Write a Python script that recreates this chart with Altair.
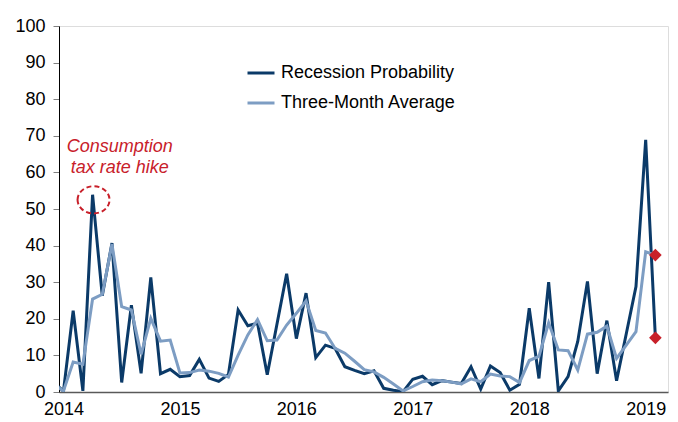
import altair as alt
import pandas as pd

# Monthly observations, Dec 2013 (clipped at the axis) .. Feb 2019
months = pd.date_range("2013-12-01", "2019-02-01", freq="MS").strftime("%Y-%m").tolist()

recession = [
    2.7,
    0.2, 22.2, 0.3, 53.9, 26.3, 40.7, 2.6, 23.7, 5.1, 31.3, 5.0, 6.2,
    4.2, 4.5, 8.9, 3.8, 2.9, 4.8, 22.4, 18.1, 18.8, 4.7, 18.5, 32.3,
    14.6, 27.0, 9.4, 12.8, 11.9, 6.9, 5.9, 5.0, 5.8, 1.0, 0.5, 0.1,
    3.5, 4.3, 2.0, 3.1, 2.7, 2.3, 6.9, 0.8, 7.1, 5.3, 0.5, 2.1,
    22.9, 3.7, 30.0, 0.3, 4.2, 13.8, 30.2, 5.0, 19.5, 3.1, 15.9, 28.8,
    68.9, 14.8,
]
three_month = [
    2.1,
    0.3, 8.2, 7.6, 25.4, 26.7, 40.4, 23.3, 22.4, 10.3, 20.1, 13.9, 14.2,
    5.2, 5.3, 6.0, 5.7, 5.1, 4.1, 10.1, 15.6, 19.8, 14.0, 14.2, 18.3,
    21.5, 24.9, 16.8, 16.1, 11.9, 10.6, 8.4, 6.1, 5.5, 4.0, 2.2, 0.3,
    1.5, 2.8, 3.3, 3.1, 2.7, 2.2, 3.6, 2.8, 4.9, 4.4, 4.2, 2.6,
    8.6, 9.7, 18.9, 11.5, 11.3, 6.0, 15.8, 16.3, 18.0, 9.2, 12.8, 16.5,
    38.3, 37.4,
]
series_names = ["Recession Probability", "Three-Month Average"]
series_colors = ["#0B3A68", "#7D9DC3"]
year_labels = [2014, 2015, 2016, 2017, 2018, 2019]
y_ticks = list(range(0, 101, 10))

annot_lines = ["Consumption", "tax rate hike"]
annot_y = [67.0, 61.2]
annot_x = 5.8
ellipse_x = 3.1
ellipse_y = 52.5

RED = "#C8202A"
FONT = "Liberation Sans"

n = len(months)
idx = list(range(-1, n - 1))  # month index, 0 = Jan 2014
df = pd.DataFrame({
    "idx": idx * 2,
    "month": months * 2,
    "value": recession + three_month,
    "series": [series_names[0]] * n + [series_names[1]] * n,
})
last_idx = idx[-1]
tick_pos = [(y - 2014) * 12 for y in year_labels]

x_scale = alt.Scale(domain=[-0.46, 62.3], nice=False, zero=False)
y_scale = alt.Scale(domain=[0, 100], nice=False)

x_axis = alt.Axis(
    values=tick_pos, labelExpr="'' + (2014 + datum.value / 12)",
    title=None, ticks=False, grid=False, domainColor="#595959", domainWidth=1.5,
    labelFontSize=18, labelFont=FONT, labelColor="#000000", labelPadding=8,
    labelFlush=False, labelOverlap=False)
y_axis = alt.Axis(
    values=y_ticks, title=None, grid=False, domainColor="#000000", domainWidth=1,
    tickColor="#808080", tickSize=6, labelFontSize=18, labelFont=FONT,
    labelColor="#000000", labelPadding=8, labelOverlap=False, labelFlush=False)


def X(field):
    return alt.X(field, scale=x_scale, axis=x_axis)


def Y(field):
    return alt.Y(field, scale=y_scale, axis=y_axis)


lines = alt.Chart(df).mark_line(strokeWidth=3, clip=True).encode(
    x=X("idx:Q"),
    y=Y("value:Q"),
    color=alt.Color("series:N", scale=alt.Scale(domain=series_names, range=series_colors),
                    legend=alt.Legend(
                        title=None, orient="none", legendX=187, legendY=32,
                        symbolType="stroke", symbolSize=729, symbolStrokeWidth=3,
                        labelFontSize=18, labelFont=FONT, labelColor="#000000",
                        labelLimit=0, rowPadding=6, labelOffset=5, padding=0)),
    detail="series:N",
)

diamonds = alt.Chart(df).transform_filter(
    alt.datum.idx == last_idx
).mark_point(shape="diamond", filled=True, size=160, color=RED, opacity=1).encode(
    x=X("idx:Q"),
    y=Y("value:Q"),
)

df_text = pd.DataFrame({"idx": [annot_x] * len(annot_lines), "value": annot_y, "t": annot_lines})
text = alt.Chart(df_text).mark_text(
    font=FONT, fontSize=18, fontStyle="italic", color=RED, align="center", baseline="middle"
).encode(x=X("idx:Q"), y=Y("value:Q"), text="t:N")

df_ell = pd.DataFrame({"idx": [ellipse_x], "value": [ellipse_y]})
ellipse = alt.Chart(df_ell).mark_point(
    shape="M -1 0 A 1 0.85 0 1 1 1 0 A 1 0.85 0 1 1 -1 0 Z",
    size=1024, filled=False, stroke=RED, strokeWidth=2, strokeDash=[5, 3], opacity=1
).encode(x=X("idx:Q"), y=Y("value:Q"))

chart = alt.layer(lines, diamonds, text, ellipse).properties(
    width=609, height=366,
    autosize=alt.AutoSizeParams(type="none"),
    padding={"left": 51, "top": 18, "right": 2, "bottom": 28},
).configure_view(stroke=None).configure(background="white")

chart.save("out.html", embed_options={"renderer": "svg", "actions": False})
